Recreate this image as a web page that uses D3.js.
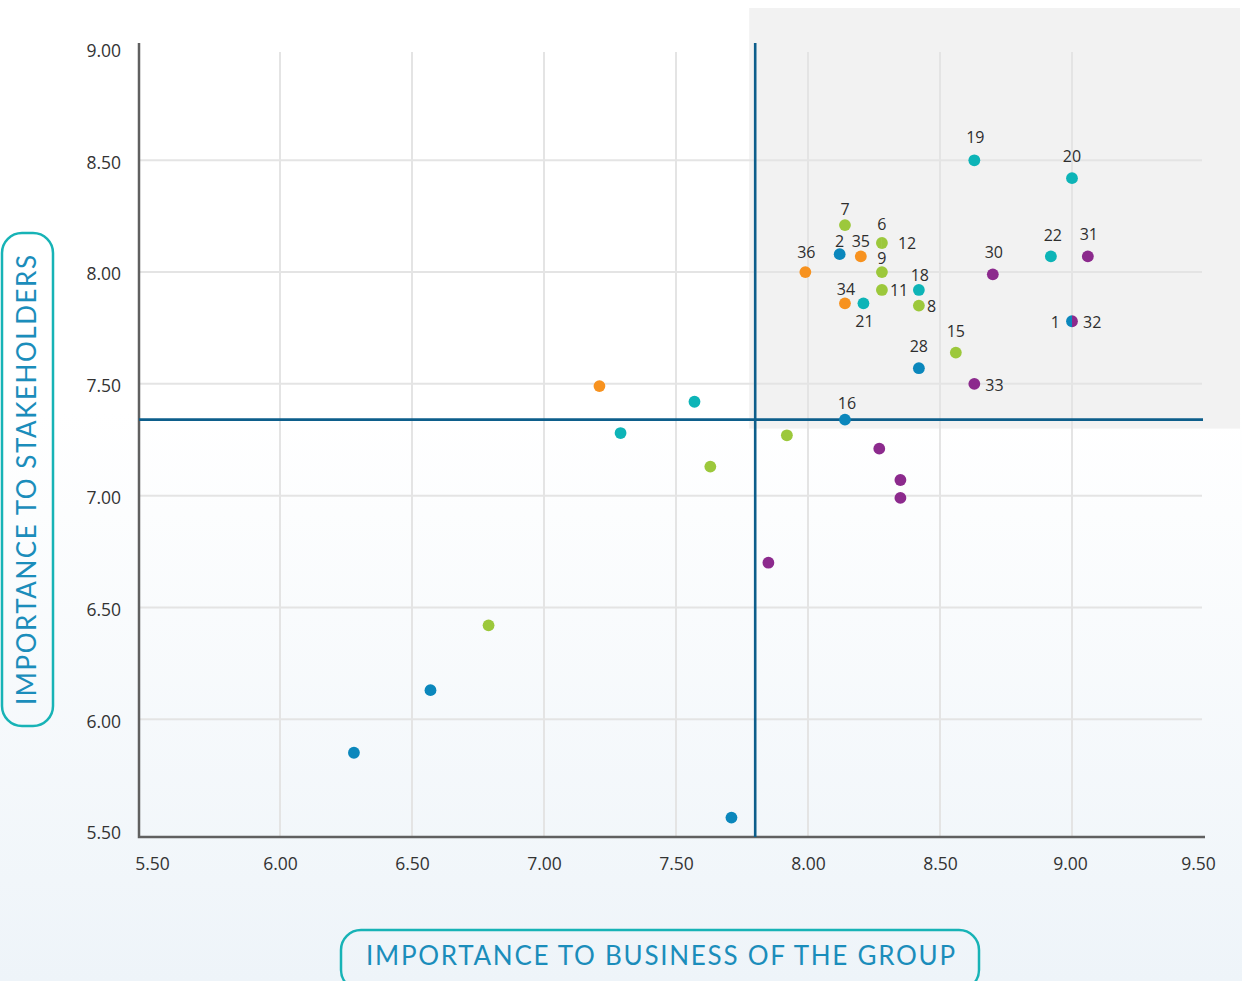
<!DOCTYPE html>
<html>
<head>
<meta charset="utf-8">
<script src="https://cdn.jsdelivr.net/npm/d3@7"></script>
<style>
  html, body { margin: 0; padding: 0; background: #ffffff; }
  svg { display: block; }
</style>
</head>
<body>
<svg id="chart" width="1242" height="981"></svg>
<script>
// Materiality matrix: importance to the business of the group (x)
// against importance to stakeholders (y), one dot per topic.

const topicIds = [
  "19", "20", "7", "6", "12", "2", "35", "36", "9", "11", "18", "8",
  "34", "21", "30", "22", "31", "1", "32", "15", "33", "28", "16",
  null, null, null, null, null, null, null, null, null, null, null, null, null
];
const businessScores = [
  8.63, 9.00, 8.14, 8.28, 8.28, 8.12, 8.20, 7.99, 8.28, 8.28, 8.42, 8.42,
  8.14, 8.21, 8.70, 8.92, 9.06, 9.00, 9.00, 8.56, 8.63, 8.42, 8.14,
  7.21, 7.57, 7.29, 7.63, 7.92, 8.27, 8.35, 8.35, 7.85, 6.79, 6.57, 6.28, 7.71
];
const stakeholderScores = [
  8.50, 8.42, 8.21, 8.13, 8.13, 8.08, 8.07, 8.00, 8.00, 7.92, 7.92, 7.85,
  7.86, 7.86, 7.99, 8.07, 8.07, 7.78, 7.78, 7.64, 7.50, 7.57, 7.34,
  7.49, 7.42, 7.28, 7.13, 7.27, 7.21, 7.07, 6.99, 6.70, 6.42, 6.13, 5.85, 5.56
];
const topicGroups = [
  "B", "B", "A", "A", "A", "C", "D", "D", "A", "A", "B", "A",
  "D", "B", "E", "B", "E", "C", "E", "A", "E", "C", "C",
  "D", "B", "B", "A", "A", "E", "E", "E", "E", "A", "C", "C", "C"
];
const groupKeys = ["A", "B", "C", "D", "E"];
const groupColors = ["#9cc83b", "#0db4b7", "#0b87bc", "#f7921f", "#8c2a8d"];

const xTicks = [5.5, 6.0, 6.5, 7.0, 7.5, 8.0, 8.5, 9.0, 9.5];
const yTicks = [5.5, 6.0, 6.5, 7.0, 7.5, 8.0, 8.5, 9.0];
const businessThreshold = 7.80;
const stakeholderThreshold = 7.34;

const xTitle = "IMPORTANCE TO BUSINESS OF THE GROUP";
const yTitle = "IMPORTANCE TO STAKEHOLDERS";

// ---------------------------------------------------------------------------

const W = 1242, H = 981;
const svg = d3.select("#chart");

const x = d3.scaleLinear().domain([5.5, 9.5]).range([148, 1204]);
const y = d3.scaleLinear().domain([5.5, 9.0]).range([831, 48.5]);
const color = d3.scaleOrdinal().domain(groupKeys).range(groupColors);
const fmt = d3.format(".2f");

const frameLeft = 139, frameBottom = 837, frameTop = 43, frameRight = 1205;

// page background: white fading into a pale blue
const defs = svg.append("defs");
const bg = defs.append("linearGradient").attr("id", "bgGrad")
  .attr("x1", 0).attr("y1", 0).attr("x2", 0).attr("y2", 1);
bg.append("stop").attr("offset", "0%").attr("stop-color", "#ffffff");
bg.append("stop").attr("offset", "42%").attr("stop-color", "#ffffff");
bg.append("stop").attr("offset", "100%").attr("stop-color", "#eef4f9");
svg.append("rect").attr("width", W).attr("height", H).attr("fill", "url(#bgGrad)");

// highlighted top-right quadrant
const qLeft = x(businessThreshold) - 6;
const qBottom = y(stakeholderThreshold) + 9;
svg.append("rect")
  .attr("x", qLeft).attr("y", 8)
  .attr("width", 1240 - qLeft).attr("height", qBottom - 8)
  .attr("fill", "#f2f2f2");

// grid
const grid = svg.append("g").attr("stroke", "#e4e4e4").attr("stroke-width", 2);
grid.selectAll("line.v").data(xTicks.slice(1, -1)).join("line")
  .attr("class", "v")
  .attr("x1", d => x(d)).attr("x2", d => x(d))
  .attr("y1", 52).attr("y2", frameBottom);
grid.selectAll("line.h").data(yTicks.slice(1, -1)).join("line")
  .attr("class", "h")
  .attr("x1", frameLeft).attr("x2", 1202)
  .attr("y1", d => y(d)).attr("y2", d => y(d));

// axes (labels only; frame drawn separately)
const tickFont = "'Open Sans', 'Noto Sans', sans-serif";
const xAxis = svg.append("g")
  .attr("transform", `translate(0,${frameBottom})`)
  .call(d3.axisBottom(x).tickValues(xTicks).tickFormat(fmt).tickSize(0).tickPadding(21));
const yAxis = svg.append("g")
  .attr("transform", `translate(${frameLeft},0)`)
  .call(d3.axisLeft(y).tickValues(yTicks).tickFormat(fmt).tickSize(0).tickPadding(18));
[xAxis, yAxis].forEach(g => {
  g.select(".domain").remove();
  g.selectAll("text")
    .attr("fill", "#333333")
    .style("font-family", tickFont)
    .style("font-size", "17.5px");
});
yAxis.selectAll("text").attr("dy", "0.45em");
// keep the outermost x labels tucked inside the frame
const xLabelNudge = d => d === xTicks[0] ? 4 : d === xTicks[xTicks.length - 1] ? -6 : d === 9.0 ? -2 : 0;
xAxis.selectAll(".tick text").attr("x", d => xLabelNudge(d));

// frame
svg.append("path")
  .attr("d", `M${frameLeft},${frameTop}V${frameBottom}H${frameRight}`)
  .attr("fill", "none").attr("stroke", "#606060").attr("stroke-width", 2.5);

// quadrant threshold lines
svg.append("line")
  .attr("x1", x(businessThreshold)).attr("x2", x(businessThreshold))
  .attr("y1", frameTop).attr("y2", frameBottom)
  .attr("stroke", "#0d5e8b").attr("stroke-width", 2.6);
svg.append("line")
  .attr("x1", frameLeft).attr("x2", 1203)
  .attr("y1", y(stakeholderThreshold)).attr("y2", y(stakeholderThreshold))
  .attr("stroke", "#0d5e8b").attr("stroke-width", 2.6);

// topics
const topics = topicIds.map((id, i) => ({
  id, bx: businessScores[i], sy: stakeholderScores[i], group: topicGroups[i]
}));

// topics sharing one position are drawn as a split dot
const byPos = d3.groups(topics, d => `${d.bx}|${d.sy}`);
const R = 5.9;
const arc = d3.arc().innerRadius(0).outerRadius(R);
const dots = svg.append("g");
byPos.forEach(([, members]) => {
  const cx = x(members[0].bx), cy = y(members[0].sy);
  if (members.length === 1) {
    dots.append("circle")
      .attr("cx", cx).attr("cy", cy).attr("r", R)
      .attr("fill", color(members[0].group));
  } else {
    const slices = d3.pie().value(1).sort(null)(members.slice().reverse());
    dots.selectAll(null).data(slices).join("path")
      .attr("transform", `translate(${cx},${cy})`)
      .attr("d", arc)
      .attr("fill", d => color(d.data.group));
  }
});

// topic number placement around each dot: [dx, dy(baseline), anchor]
const labelOffsets = {
  "19": [1, -17], "20": [0, -16], "7": [0, -10], "6": [0, -13],
  "12": [16, 6, "start"], "2": [0, -7], "35": [0, -9], "36": [1, -14],
  "9": [0, -8], "11": [8, 6, "start"], "18": [1, -9], "8": [8, 6, "start"],
  "34": [1, -8], "21": [1, 24], "30": [1, -16], "22": [2, -15],
  "31": [1, -16], "1": [-12, 7, "end"], "32": [11, 7, "start"],
  "15": [0, -16], "33": [11, 7, "start"], "28": [0, -16], "16": [2, -11]
};
svg.append("g").selectAll("text")
  .data(topics.filter(d => d.id !== null))
  .join("text")
  .attr("x", d => x(d.bx) + labelOffsets[d.id][0])
  .attr("y", d => y(d.sy) + labelOffsets[d.id][1])
  .attr("text-anchor", d => labelOffsets[d.id][2] || "middle")
  .attr("fill", "#2e2e2e")
  .style("font-family", tickFont)
  .style("font-size", "16px")
  .text(d => d.id);

// axis titles in rounded boxes
const titleFont = "Lato, 'Open Sans', sans-serif";
svg.append("rect")
  .attr("x", 341).attr("y", 930).attr("width", 638).attr("height", 60)
  .attr("rx", 20).attr("fill", "none")
  .attr("stroke", "#17b3b6").attr("stroke-width", 2.5);
svg.append("text")
  .attr("x", 366).attr("y", 965)
  .attr("textLength", 589).attr("lengthAdjust", "spacing")
  .attr("fill", "#1b8dbb")
  .style("font-family", titleFont)
  .style("font-size", "26px")
  .text(xTitle);

svg.append("rect")
  .attr("x", 2).attr("y", 233).attr("width", 51).attr("height", 493)
  .attr("rx", 20).attr("fill", "none")
  .attr("stroke", "#17b3b6").attr("stroke-width", 2.5);
svg.append("text")
  .attr("transform", "translate(36,705) rotate(-90)")
  .attr("textLength", 450).attr("lengthAdjust", "spacing")
  .attr("fill", "#1b8dbb")
  .style("font-family", titleFont)
  .style("font-size", "26px")
  .text(yTitle);
</script>
</body>
</html>
